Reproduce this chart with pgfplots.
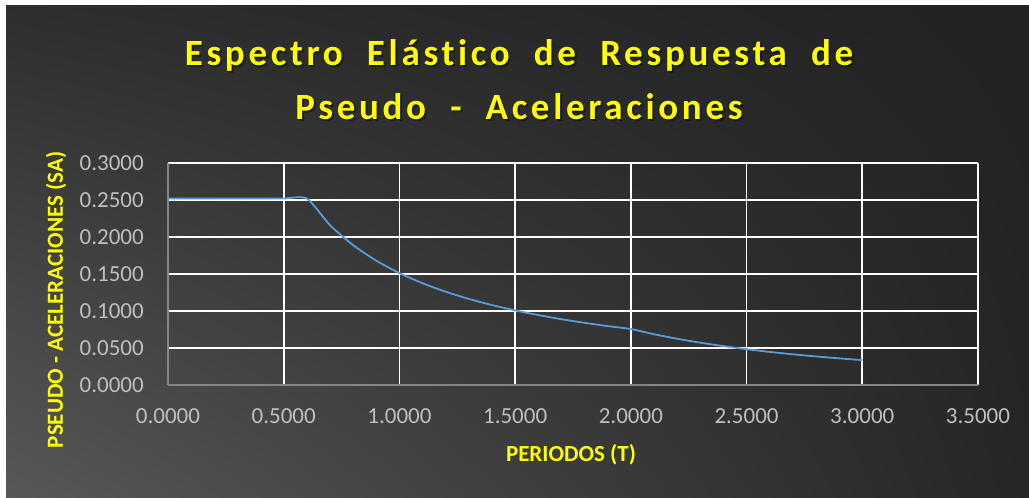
\documentclass[border=0pt]{standalone}
\usepackage{fontspec}
\setmainfont{Carlito}
\newfontfamily\titlefont[LetterSpace=10,WordSpace=2.0,Ligatures=NoCommon]{Carlito}
\usepackage{pgfplots}
\pgfplotsset{compat=1.18}
\usetikzlibrary{shadings}
\definecolor{ttl}{RGB}{255,255,0}
\definecolor{tick}{RGB}{191,191,191}
\definecolor{ln}{RGB}{91,155,213}
\definecolor{axg}{RGB}{134,134,134}
\definecolor{bgul}{RGB}{46,46,46}
\definecolor{bgur}{RGB}{34,34,34}
\definecolor{bgll}{RGB}{88,88,88}
\definecolor{bglr}{RGB}{38,38,38}
\begin{document}
\begin{tikzpicture}[x=1pt,y=1pt]
\useasboundingbox (0,0) rectangle (1029,498);
\fill[white] (0,0) rectangle (1029,498);
\shade[upper left=bgul, upper right=bgur, lower left=bgll, lower right=bglr]
       (6,0) rectangle (1029,492);
% title
\node[anchor=base, text=black, opacity=0.4, font=\fontsize{37}{44}\titlefont\bfseries] at (521,430) {Espectro Elástico de Respuesta de};
\node[anchor=base, text=black, opacity=0.4, font=\fontsize{37}{44}\titlefont\bfseries] at (521,376) {Pseudo - Aceleraciones};
\node[anchor=base, text=ttl, font=\fontsize{37}{44}\titlefont\bfseries] at (519,432) {Espectro Elástico de Respuesta de};
\node[anchor=base, text=ttl, font=\fontsize{37}{44}\titlefont\bfseries] at (519,378) {Pseudo - Aceleraciones};
\begin{axis}[
  at={(168pt,113pt)}, anchor=south west,
  scale only axis, width=810pt, height=222pt,
  xmin=0, xmax=3.5, ymin=0, ymax=0.3,
  xtick={0,0.5,1,1.5,2,2.5,3,3.5},
  ytick={0,0.05,0.1,0.15,0.2,0.25,0.3},
  grid=major,
  major grid style={white, line width=1.8pt},
  axis x line*=bottom, axis y line*=left,
  x axis line style={axg, line width=2.8pt},
  y axis line style={axg, line width=1.8pt},
  major tick length=0pt,
  tick label style={text=tick, font=\fontsize{23}{27}\selectfont, inner sep=0pt},
  /pgf/number format/assume math mode=true,
  /pgf/number format/.cd, fixed, fixed zerofill, precision=4, /pgfplots/.cd,
  yticklabel style={xshift=-24pt},
  xticklabel style={yshift=-23pt},
  clip=false,
]
\addplot[ln, line width=1.8pt, smooth, tension=0.4] coordinates {
(0.0,0.2520) (0.1,0.2520) (0.2,0.2520) (0.3,0.2520) (0.4,0.2520) (0.5,0.2520) (0.6,0.2520)
(0.7,0.2160) (0.8,0.1890) (0.9,0.1680) (1.0,0.1512) (1.1,0.1375) (1.2,0.1260) (1.3,0.1163)
(1.4,0.1080) (1.5,0.1008) (1.6,0.0945) (1.7,0.0889) (1.8,0.0840) (1.9,0.0796) (2.0,0.0756)
(2.1,0.0686) (2.2,0.0625) (2.3,0.0572) (2.4,0.0525) (2.5,0.0484) (2.6,0.0447) (2.7,0.0415)
(2.8,0.0386) (2.9,0.0360) (3.0,0.0336)
};
\end{axis}
\node[rotate=90, text=ttl, font=\fontsize{23}{27}\bfseries\selectfont] at (56,198) {PSEUDO - ACELERACIONES (SA)};
\node[text=ttl, font=\fontsize{23}{27}\bfseries\selectfont] at (571,43) {PERIODOS (T)};
\end{tikzpicture}
\end{document}
